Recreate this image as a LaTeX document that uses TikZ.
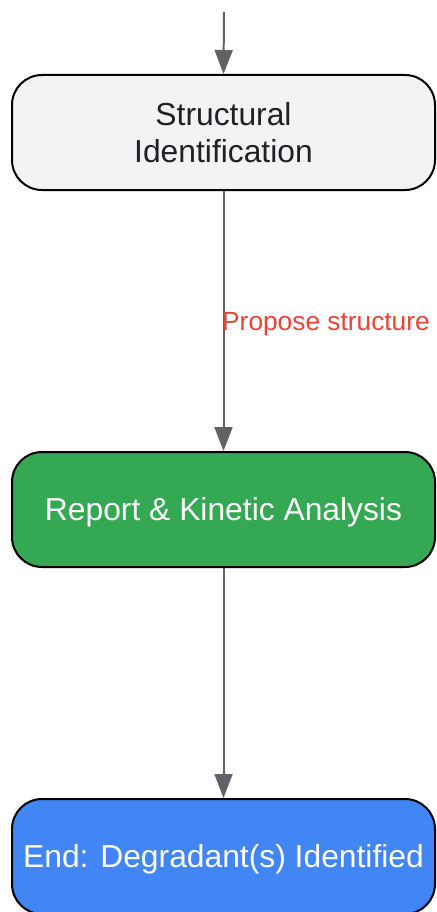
\documentclass[tikz,border=0pt]{standalone}
\usepackage{fontspec}
\setmainfont{Liberation Sans}
\usetikzlibrary{arrows.meta}
\definecolor{edgegray}{HTML}{5F6368}
\definecolor{lightfill}{HTML}{F1F3F4}
\definecolor{darktext}{HTML}{202124}
\definecolor{gfill}{HTML}{34A853}
\definecolor{bfill}{HTML}{4285F4}
\definecolor{labred}{HTML}{EA4335}
\tikzset{
  box/.style={draw=black, line width=2pt, rounded corners=30pt, minimum width=423pt, minimum height=115pt, inner sep=0pt, align=center, font=\fontsize{31.8}{37}\selectfont},
  conn/.style={draw=edgegray, line width=2pt, -{Triangle[length=24pt,width=18pt]}},
  lbl/.style={text=labred, font=\fontsize{26.3}{30}\selectfont, inner sep=0pt, anchor=west}
}
\newcommand{\dn}[1]{\raisebox{-3pt}[\height][\depth]{#1}}
\begin{document}
\begin{tikzpicture}[x=1pt,y=-1pt]
\useasboundingbox (0,0) rectangle (436,912);
\begin{scope}
\clip (0,0) rectangle (436,912);
\node[box, fill=lightfill, text=darktext] (n1) at (223.5,132.5) {Structural\\Identification};
\node[box, fill=gfill, text=white] (n2) at (223.5,509.5) {\dn{Report \& Kinetic Analysis}};
\node[box, fill=bfill, text=white] (n3) at (223.5,856.5) {\dn{End: Degradant(s) Identified}};
\coordinate (start) at (224,12);
\draw[conn] (start) -- (n1.north);
\draw[conn] (n1.south) -- (n2.north);
\draw[conn] (n2.south) -- (n3.north);
\node[lbl] (l1) at (222,324.5) {Propose structure};
\end{scope}
\end{tikzpicture}
\end{document}
